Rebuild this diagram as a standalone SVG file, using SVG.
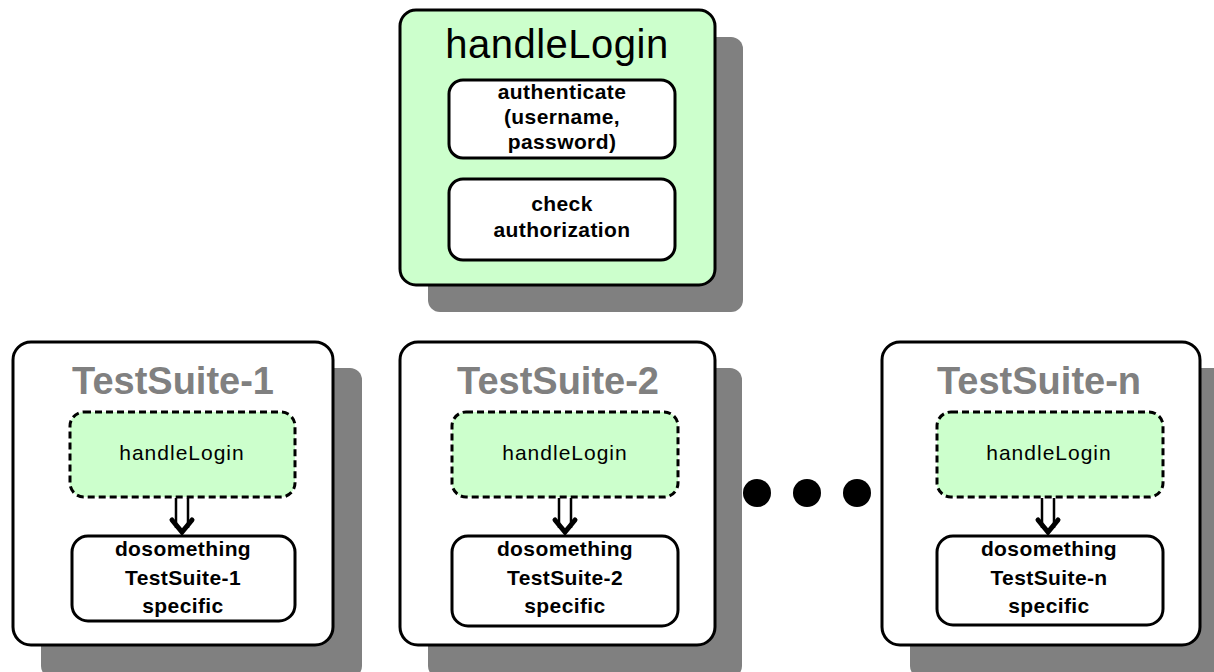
<svg xmlns="http://www.w3.org/2000/svg" width="1214" height="672" viewBox="0 0 1214 672">
<style>
.shadow{fill:#808080;}
.outer{fill:#ffffff;stroke:#000;stroke-width:3;}
.outerg{fill:#ccffcc;stroke:#000;stroke-width:3;}
.inner{fill:#ffffff;stroke:#000;stroke-width:3;}
.dash{fill:#ccffcc;stroke:#000;stroke-width:3;stroke-dasharray:7 4;}
.ttl{font-family:"Liberation Sans",Arial,sans-serif;font-weight:bold;font-size:38px;fill:#808080;text-anchor:middle;}
.big{font-family:"Liberation Sans",Arial,sans-serif;font-size:40px;fill:#000;text-anchor:middle;letter-spacing:0.5px;}
.lbl{font-family:"Liberation Sans",Arial,sans-serif;font-size:21px;fill:#000;text-anchor:middle;letter-spacing:1px;}
.bl{font-family:"Liberation Sans",Arial,sans-serif;font-weight:bold;font-size:21px;fill:#000;text-anchor:middle;letter-spacing:0.4px;}
.shaft{stroke:#000;stroke-width:2.5;fill:none;}
.head{stroke:#000;stroke-width:5;fill:none;stroke-linecap:round;}
</style>
<rect width="1214" height="672" fill="#ffffff"/>

<g id="handleLogin">
<rect class="shadow" x="428" y="37" width="315" height="275" rx="12"/>
<rect class="outerg" x="400" y="10" width="315" height="275" rx="16"/>
<text class="big" x="557" y="58">handleLogin</text>
<rect class="inner" x="449" y="80" width="226" height="78" rx="14"/>
<text class="bl" x="562" y="99">authenticate</text>
<text class="bl" x="562" y="124">(username,</text>
<text class="bl" x="562" y="149">password)</text>
<rect class="inner" x="449" y="179" width="226" height="81" rx="14"/>
<text class="bl" x="562" y="211">check</text>
<text class="bl" x="562" y="237">authorization</text>
</g>

<g id="testsuite1">
<rect class="shadow" x="41" y="368" width="321" height="310" rx="12"/>
<rect class="outer" x="13" y="342" width="320" height="303" rx="18"/>
<text class="ttl" x="173" y="394">TestSuite-1</text>
<rect class="dash" x="70" y="412" width="225" height="85" rx="14"/>
<text class="lbl" x="182" y="460">handleLogin</text>
<rect class="inner" x="72" y="536" width="223" height="85" rx="16"/>
<text class="bl" x="183" y="556">dosomething</text>
<text class="bl" x="183" y="585">TestSuite-1</text>
<text class="bl" x="183" y="613">specific</text>
</g>

<g id="testsuite2">
<rect class="shadow" x="428" y="368" width="314" height="310" rx="12"/>
<rect class="outer" x="400" y="342" width="315" height="303" rx="18"/>
<text class="ttl" x="558" y="394">TestSuite-2</text>
<rect class="dash" x="452" y="412" width="226" height="85" rx="14"/>
<text class="lbl" x="565" y="460">handleLogin</text>
<rect class="inner" x="452" y="536" width="226" height="90" rx="16"/>
<text class="bl" x="565" y="556">dosomething</text>
<text class="bl" x="565" y="585">TestSuite-2</text>
<text class="bl" x="565" y="613">specific</text>
</g>

<g id="dots">
<circle cx="757" cy="493" r="14" fill="#000"/>
<circle cx="807" cy="493" r="14" fill="#000"/>
<circle cx="857" cy="493" r="14" fill="#000"/>
</g>

<g id="testsuiten">
<rect class="shadow" x="910" y="368" width="320" height="310" rx="12"/>
<rect class="outer" x="882" y="342" width="318" height="303" rx="18"/>
<text class="ttl" x="1039" y="394">TestSuite-n</text>
<rect class="dash" x="937" y="412" width="226" height="85" rx="14"/>
<text class="lbl" x="1049" y="460">handleLogin</text>
<rect class="inner" x="937" y="536" width="226" height="89" rx="16"/>
<text class="bl" x="1049" y="556">dosomething</text>
<text class="bl" x="1049" y="585">TestSuite-n</text>
<text class="bl" x="1049" y="613">specific</text>
</g>

<g id="connectors">
<path class="shaft" d="M176 498 V528 M188 498 V528"/>
<path class="head" d="M172 520 L182 532 L192 520"/>
<path class="shaft" d="M559 498 V528 M571 498 V528"/>
<path class="head" d="M555 520 L565 532 L575 520"/>
<path class="shaft" d="M1042 498 V528 M1054 498 V528"/>
<path class="head" d="M1038 520 L1048 532 L1058 520"/>
</g>
</svg>
